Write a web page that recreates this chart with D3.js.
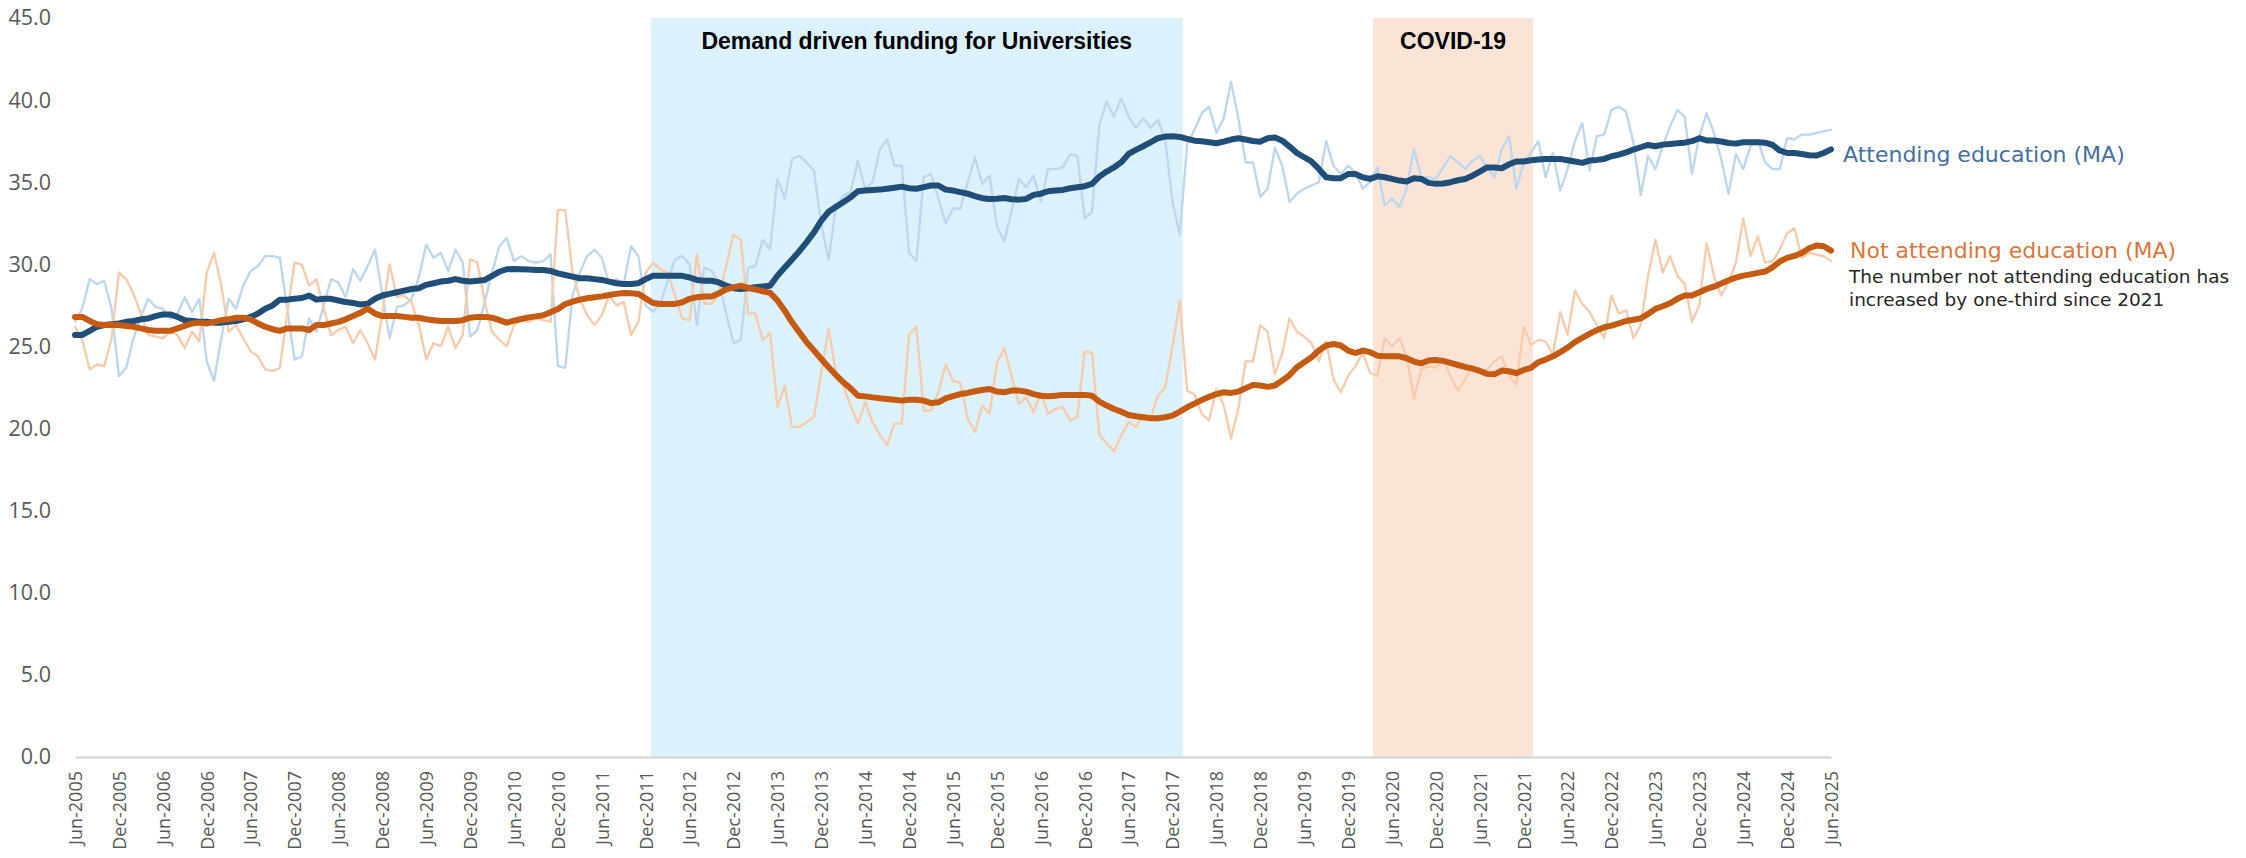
<!DOCTYPE html>
<html>
<head>
<meta charset="utf-8">
<script src="https://d3js.org/d3.v7.min.js"></script>
<style>
    body { margin: 0; background: #ffffff; }
    svg { display: block; }
</style>
</head>
<body>
<svg id="chart"></svg>
<script>
// monthly values, Jun-2005 (index 0) to Jun-2025 (index 240)
const attendingRaw = [
    26.5, 27.3, 29.1, 28.8, 29.0, 27.3, 23.2, 23.7, 25.5, 26.8,
    27.9, 27.4, 27.3, 26.7, 27.0, 28.0, 27.1, 27.9, 24.1, 22.9,
    25.5, 27.9, 27.3, 28.7, 29.6, 29.9, 30.5, 30.5, 30.4, 27.3,
    24.2, 24.4, 26.7, 25.9, 27.5, 29.1, 28.9, 28.0, 29.7, 29.0,
    29.9, 30.9, 28.2, 25.5, 27.4, 27.5, 27.9, 29.2, 31.2, 30.4,
    30.7, 29.6, 30.9, 30.1, 25.6, 26.0, 27.7, 29.5, 31.1, 31.6,
    30.2, 30.5, 30.2, 30.1, 30.2, 30.6, 23.8, 23.7, 28.1, 29.5,
    30.5, 30.9, 30.4, 28.8, 29.1, 28.8, 31.1, 30.5, 27.5, 27.1,
    27.6, 29.0, 30.3, 30.5, 30.0, 26.3, 29.8, 29.6, 28.9, 27.0,
    25.2, 25.4, 29.8, 29.9, 31.5, 30.9, 35.2, 34.0, 36.4, 36.6,
    36.2, 35.7, 32.4, 30.3, 33.5, 34.2, 34.4, 36.3, 34.6, 35.0,
    37.0, 37.6, 36.0, 36.0, 30.7, 30.2, 35.3, 35.5, 34.0, 32.5,
    33.4, 33.4, 35.0, 36.5, 34.9, 35.4, 32.3, 31.4, 33.2, 35.2,
    34.7, 35.4, 33.8, 35.8, 35.8, 35.9, 36.7, 36.6, 32.8, 33.2,
    38.5, 39.9, 39.0, 40.1, 39.0, 38.3, 38.9, 38.3, 38.8, 37.6,
    33.8, 31.8, 37.3, 38.2, 39.2, 39.6, 38.0, 38.9, 41.1, 38.9,
    36.2, 36.2, 34.1, 34.6, 37.1, 36.0, 33.8, 34.3, 34.6, 34.8,
    35.0, 37.5, 36.0, 35.5, 36.0, 35.6, 34.6, 35.0, 35.9, 33.6,
    34.0, 33.5, 34.6, 37.0, 35.3, 35.3, 35.2, 35.9, 36.6, 36.2,
    35.8, 36.3, 36.6, 35.9, 35.3, 37.0, 37.8, 34.6, 36.2, 36.8,
    37.5, 35.3, 36.8, 34.5, 35.8, 37.5, 38.6, 35.7, 37.8, 37.9,
    39.4, 39.6, 39.3, 37.4, 34.2, 36.6, 35.8, 37.2, 38.4, 39.4,
    39.0, 35.5, 37.8, 39.2, 38.0, 36.4, 34.3, 36.7, 35.8, 37.2,
    37.6, 36.2, 35.8, 35.8, 37.7, 37.6, 37.9, 37.9, 38.0, 38.1,
    38.2
];

const notAttendingRaw = [
    26.2, 25.4, 23.6, 23.9, 23.8, 25.5, 29.5, 29.1, 28.2, 27.0,
    25.7, 25.6, 25.5, 25.9, 25.7, 24.9, 25.9, 25.3, 29.5, 30.7,
    28.7, 25.9, 26.3, 25.5, 24.7, 24.4, 23.6, 23.5, 23.7, 27.0,
    30.1, 30.0, 28.7, 29.1, 27.3, 25.7, 26.0, 26.2, 25.2, 26.0,
    25.2, 24.2, 27.0, 30.0, 28.0, 28.1, 27.7, 26.3, 24.2, 25.2,
    25.0, 26.2, 24.9, 25.7, 30.3, 30.1, 27.7, 25.9, 25.4, 25.0,
    26.3, 26.6, 26.5, 26.7, 26.6, 26.5, 33.3, 33.3, 29.5, 27.9,
    26.9, 26.3, 26.9, 28.1, 27.5, 27.7, 25.7, 26.5, 29.5, 30.1,
    29.7, 29.5, 28.1, 26.7, 26.6, 30.6, 27.6, 27.6, 28.1, 29.9,
    31.8, 31.5, 27.0, 27.0, 25.4, 25.8, 21.3, 22.6, 20.1, 20.1,
    20.4, 20.7, 23.4, 26.1, 23.4, 22.6, 21.4, 20.3, 21.6, 20.4,
    19.6, 19.0, 20.3, 20.3, 25.7, 26.2, 21.1, 21.1, 22.2, 23.9,
    22.9, 22.8, 20.6, 19.8, 21.4, 20.9, 24.0, 24.9, 23.2, 21.5,
    21.9, 21.0, 22.2, 20.9, 21.2, 21.3, 20.5, 20.7, 24.7, 24.6,
    19.6, 19.1, 18.6, 19.6, 20.4, 20.1, 20.8, 20.6, 22.0, 22.5,
    25.0, 27.8, 22.3, 22.1, 20.9, 20.5, 22.4, 21.4, 19.4, 21.2,
    24.1, 24.1, 26.3, 25.9, 23.3, 24.6, 26.7, 25.9, 25.6, 25.2,
    24.1, 25.3, 23.0, 22.2, 23.2, 23.8, 24.6, 23.4, 23.2, 25.5,
    25.0, 25.5, 24.4, 21.8, 23.6, 23.8, 23.7, 24.2, 23.2, 22.3,
    23.0, 23.8, 23.4, 23.6, 24.1, 24.4, 23.2, 22.7, 26.2, 25.1,
    25.4, 25.3, 24.5, 27.1, 25.7, 28.4, 27.6, 27.1, 26.3, 25.5,
    28.1, 27.0, 27.2, 25.5, 26.3, 29.3, 31.5, 29.5, 30.5, 29.3,
    28.8, 26.5, 27.5, 31.3, 29.3, 28.1, 28.9, 30.1, 32.8, 30.5,
    31.7, 30.1, 30.2, 30.9, 31.9, 32.2, 30.4, 30.7, 30.6, 30.5,
    30.2
];

const attendingMA = [
    25.7, 25.7, 25.95, 26.2, 26.3, 26.35, 26.4, 26.5, 26.55, 26.65,
    26.7, 26.85, 26.95, 26.95, 26.8, 26.6, 26.55, 26.5, 26.5, 26.45,
    26.45, 26.5, 26.55, 26.65, 26.8, 27.0, 27.3, 27.5, 27.85, 27.85,
    27.9, 27.95, 28.1, 27.85, 27.9, 27.9, 27.8, 27.7, 27.65, 27.55,
    27.6, 27.9, 28.1, 28.2, 28.3, 28.4, 28.5, 28.55, 28.75, 28.85,
    28.95, 29.0, 29.1, 29.0, 28.95, 29.0, 29.05, 29.3, 29.55, 29.7,
    29.72, 29.7, 29.68, 29.66, 29.65, 29.6, 29.45, 29.35, 29.25, 29.15,
    29.15, 29.1, 29.05, 28.95, 28.85, 28.8, 28.8, 28.85, 29.1, 29.3,
    29.3, 29.3, 29.3, 29.3, 29.2, 29.05, 29.0, 29.0, 28.9, 28.7,
    28.55, 28.5, 28.55, 28.6, 28.65, 28.7, 29.3, 29.8, 30.3, 30.8,
    31.35, 31.95, 32.66, 33.2, 33.5, 33.78, 34.08, 34.45, 34.5, 34.53,
    34.55, 34.6, 34.66, 34.73, 34.63, 34.6, 34.7, 34.8, 34.8, 34.55,
    34.49, 34.4, 34.3, 34.15, 34.03, 33.98, 34.0, 34.04, 33.96, 33.94,
    33.98, 34.23, 34.3, 34.45, 34.49, 34.53, 34.63, 34.69, 34.76, 34.9,
    35.34, 35.65, 35.9, 36.22, 36.72, 36.97, 37.19, 37.43, 37.68, 37.78,
    37.8, 37.76, 37.64, 37.53, 37.49, 37.43, 37.37, 37.47, 37.6, 37.68,
    37.6, 37.51, 37.47, 37.68, 37.72, 37.53, 37.17, 36.78, 36.52, 36.26,
    35.81, 35.3, 35.24, 35.24, 35.5, 35.5, 35.3, 35.2, 35.36, 35.3,
    35.2, 35.1, 35.04, 35.24, 35.2, 34.96, 34.9, 34.92, 35.0, 35.12,
    35.2, 35.4, 35.65, 35.9, 35.9, 35.85, 36.09, 36.26, 36.26, 36.34,
    36.38, 36.42, 36.42, 36.42, 36.34, 36.26, 36.18, 36.32, 36.36, 36.42,
    36.58, 36.68, 36.82, 36.99, 37.13, 37.27, 37.19, 37.29, 37.33, 37.37,
    37.41, 37.5, 37.68, 37.54, 37.54, 37.48, 37.39, 37.35, 37.43, 37.43,
    37.43, 37.41, 37.27, 36.93, 36.78, 36.78, 36.72, 36.64, 36.62, 36.78,
    37.0
];

const notAttendingMA = [
    26.8, 26.8, 26.55, 26.35, 26.3, 26.3, 26.3, 26.25, 26.2, 26.1,
    26.0, 25.95, 25.95, 25.95, 26.1, 26.25, 26.4, 26.45, 26.4, 26.5,
    26.6, 26.65, 26.75, 26.75, 26.65, 26.4, 26.2, 26.05, 25.95, 26.1,
    26.1, 26.1, 26.0, 26.3, 26.3, 26.4, 26.5, 26.65, 26.85, 27.05,
    27.3, 27.0, 26.85, 26.85, 26.85, 26.8, 26.75, 26.75, 26.65, 26.6,
    26.55, 26.55, 26.55, 26.6, 26.75, 26.8, 26.8, 26.75, 26.6, 26.45,
    26.57, 26.67, 26.77, 26.83, 26.9, 27.08, 27.28, 27.58, 27.73, 27.85,
    27.93, 28.0, 28.05, 28.13, 28.2, 28.26, 28.24, 28.2, 27.93, 27.65,
    27.59, 27.59, 27.59, 27.69, 27.9, 28.0, 28.04, 28.04, 28.24, 28.47,
    28.6, 28.7, 28.56, 28.47, 28.36, 28.26, 27.8, 27.18, 26.47, 25.86,
    25.25, 24.75, 24.24, 23.73, 23.26, 22.82, 22.45, 22.0, 21.96, 21.9,
    21.84, 21.8, 21.76, 21.7, 21.76, 21.76, 21.7, 21.55, 21.6, 21.84,
    21.97, 22.1, 22.17, 22.27, 22.35, 22.41, 22.25, 22.21, 22.31, 22.31,
    22.25, 22.1, 22.0, 21.97, 22.0, 22.05, 22.05, 22.05, 22.05, 22.0,
    21.64, 21.4, 21.19, 21.03, 20.83, 20.75, 20.69, 20.63, 20.63, 20.69,
    20.79, 21.03, 21.3, 21.52, 21.74, 21.93, 22.1, 22.21, 22.17, 22.25,
    22.45, 22.66, 22.62, 22.54, 22.62, 22.92, 23.26, 23.73, 24.04, 24.34,
    24.75, 25.06, 25.15, 25.06, 24.75, 24.6, 24.75, 24.65, 24.44, 24.4,
    24.4, 24.4, 24.28, 24.08, 23.97, 24.14, 24.18, 24.12, 24.0, 23.87,
    23.75, 23.65, 23.51, 23.33, 23.3, 23.53, 23.49, 23.37, 23.57, 23.69,
    24.04, 24.2, 24.4, 24.65, 24.93, 25.26, 25.52, 25.76, 25.99, 26.17,
    26.27, 26.41, 26.55, 26.63, 26.71, 26.98, 27.29, 27.45, 27.63, 27.9,
    28.1, 28.1, 28.3, 28.5, 28.64, 28.83, 29.03, 29.19, 29.31, 29.39,
    29.48, 29.56, 29.82, 30.17, 30.39, 30.51, 30.69, 30.98, 31.14, 31.1,
    30.84
];

const tickLabels = [];
for (let y = 2005; y <= 2025; y++) {
    tickLabels.push("Jun-" + y);
    if (y < 2025) tickLabels.push("Dec-" + y);
}
const yTicks = [0, 5, 10, 15, 20, 25, 30, 35, 40, 45];

// shaded periods, in months from Jun-2005
const bandLabels = ["Demand driven funding for Universities", "COVID-19"];
const bandStart = [78.7, 177.4];
const bandEnd = [151.4, 199.3];
const bandColors = ["#dbf1fc", "#fbe4d6"];

const width = 2246;
const height = 858;

const svg = d3.select("#chart")
    .attr("width", width)
    .attr("height", height);

const x = d3.scaleLinear().domain([0, 240]).range([75, 1831]);
const y = d3.scaleLinear().domain([0, 45]).range([757, 18]);

//////////////////////// bands ////////////////////////
const bands = svg.append("g");
bandLabels.forEach((label, i) => {
    bands.append("rect")
        .attr("x", x(bandStart[i]))
        .attr("y", y(45))
        .attr("width", x(bandEnd[i]) - x(bandStart[i]))
        .attr("height", y(0) - y(45))
        .attr("fill", bandColors[i]);
    bands.append("text")
        .text(label)
        .attr("x", (x(bandStart[i]) + x(bandEnd[i])) / 2)
        .attr("y", 49)
        .attr("text-anchor", "middle")
        .style("font-family", "'Liberation Sans', Arial, sans-serif")
        .style("font-weight", "bold")
        .style("font-size", "23px")
        .style("fill", "#000000");
});

//////////////////////// axes ////////////////////////
const yAxis = svg.append("g")
    .attr("transform", "translate(75,0)")
    .call(d3.axisLeft(y).tickValues(yTicks).tickFormat(d3.format(".1f")).tickSize(0).tickPadding(24));
yAxis.select(".domain").remove();
yAxis.selectAll("text")
    .style("font-family", "'Open Sans', sans-serif")
    .style("font-size", "21.5px")
    .style("fill", "#595959");

const xAxis = svg.append("g")
    .attr("transform", "translate(0," + y(0) + ")")
    .call(d3.axisBottom(x)
        .tickValues(d3.range(0, 241, 6))
        .tickFormat((d, i) => tickLabels[i])
        .tickSize(0)
        .tickSizeOuter(0));
xAxis.select(".domain")
    .attr("stroke", "#d9d9d9")
    .attr("stroke-width", 2.5);
xAxis.selectAll("text")
    .attr("transform", "rotate(-90)")
    .attr("x", -14)
    .attr("y", 0)
    .attr("dy", "0.35em")
    .attr("text-anchor", "end")
    .style("font-family", "'Open Sans', sans-serif")
    .style("font-size", "18px")
    .style("fill", "#595959");

//////////////////////// lines ////////////////////////
const line = d3.line()
    .x((d, i) => x(i))
    .y(d => y(d));

const series = [
    { values: attendingRaw, color: "#bdd7ee", width: 2.4 },
    { values: notAttendingRaw, color: "#f8cbad", width: 2.4 },
    { values: attendingMA, color: "#1f4e79", width: 6 },
    { values: notAttendingMA, color: "#c55a11", width: 6 }
];

svg.append("g").selectAll("path")
    .data(series)
    .join("path")
    .attr("d", d => line(d.values))
    .attr("fill", "none")
    .attr("stroke", d => d.color)
    .attr("stroke-width", d => d.width)
    .attr("stroke-linejoin", "round")
    .attr("stroke-linecap", "round");

//////////////////////// labels ////////////////////////
const last = 240;
const labels = svg.append("g")
    .style("font-family", "'DejaVu Sans', sans-serif");

labels.append("text")
    .text("Attending education (MA)")
    .attr("x", x(last) + 12)
    .attr("y", y(attendingMA[last]) + 7)
    .attr("dominant-baseline", "middle")
    .style("font-size", "22px")
    .style("fill", "#44719e");

labels.append("text")
    .text("Not attending education (MA)")
    .attr("x", x(last) + 19)
    .attr("y", y(notAttendingMA[last]) + 1.5)
    .attr("dominant-baseline", "middle")
    .style("font-size", "22px")
    .style("fill", "#d9783c");

const note = labels.append("text")
    .attr("x", x(last) + 18)
    .attr("y", y(notAttendingMA[last]) + 27)
    .attr("dominant-baseline", "middle")
    .style("font-size", "18.5px")
    .style("fill", "#262626");
note.append("tspan").text("The number not attending education has");
note.append("tspan")
    .attr("x", x(last) + 18)
    .attr("dy", 23)
    .text("increased by one-third since 2021");
</script>
</body>
</html>
